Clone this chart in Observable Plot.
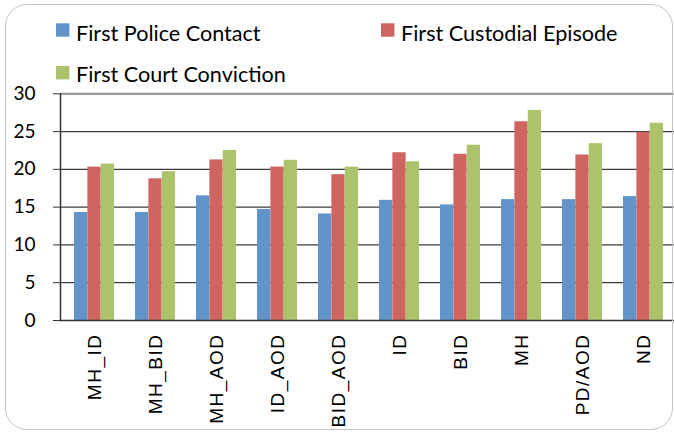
<!DOCTYPE html>
<html><head><meta charset="utf-8">
<script src="https://cdn.jsdelivr.net/npm/d3@7"></script>
<script src="https://cdn.jsdelivr.net/npm/@observablehq/plot@0.6"></script>
<style>
html,body{margin:0;padding:0;background:#fff;}
#wrap{position:relative;width:674px;height:432px;overflow:hidden;}
#chart{position:absolute;left:0;top:0;}
#legend{position:absolute;left:0;top:0;}
#border{position:absolute;left:5px;top:4px;width:666px;height:424px;border:1.5px solid #c4c4c4;border-radius:22px;pointer-events:none;}
#chart g[aria-label="x-axis tick label"] text{font-family:"Liberation Sans",Arial,sans-serif;font-size:19px;letter-spacing:1.5px;}
#chart g[aria-label="y-axis tick label"] text{font-family:Lato,sans-serif;font-size:19px;}
</style></head><body>
<div id="wrap"><div id="chart"></div><svg id="legend" width="674" height="95"></svg><div id="border"></div></div>
<script>
const categories = ["MH_ID","MH_BID","MH_AOD","ID_AOD","BID_AOD","ID","BID","MH","PD/AOD","ND"];
const seriesNames = ["First Police Contact","First Custodial Episode","First Court Conviction"];
const seriesColors = ["#6195CA","#CE6560","#ABC46B"];
const policeContact    = [14.3, 14.3, 16.5, 14.7, 14.1, 15.9, 15.3, 16.0, 16.0, 16.4];
const custodialEpisode = [20.3, 18.75, 21.25, 20.3, 19.3, 22.2, 22.0, 26.3, 21.9, 24.9];
const courtConviction  = [20.7, 19.7, 22.5, 21.2, 20.3, 21.0, 23.2, 27.8, 23.4, 26.1];
const yTicks = [0, 5, 10, 15, 20, 25, 30];

const seriesValues = [policeContact, custodialEpisode, courtConviction];
const rows = categories.flatMap((c, i) => seriesNames.map((s, k) => ({category: c, series: s, value: seriesValues[k][i]})));

const xRange = [60, 677.5];
const step = (xRange[1] - xRange[0]) / categories.length;
const bw = step * 0.65;
const sub = bw / 3;

const chart = Plot.plot({
  width: 674, height: 432,
  marginLeft: 60, marginRight: 0, marginTop: 93.3, marginBottom: 112,
  style: {fontFamily: "Lato, sans-serif", fontSize: "19px", color: "#000", background: "transparent"},
  x: {domain: categories, range: xRange, paddingInner: 0.35, paddingOuter: 0.175, label: null},
  y: {domain: [0, 30], label: null},
  marks: [
    Plot.ruleY(yTicks.filter(t => t > 0 && t < 30), {stroke: "#3c3c3c", strokeWidth: 1.2}),
    Plot.ruleY([30], {stroke: "#9a9a9a", strokeWidth: 2.2}),
    ...seriesNames.map((s, k) => Plot.barY(rows.filter(r => r.series === s), {
      x: "category", y: "value", fill: seriesColors[k],
      insetLeft: k * sub, insetRight: (2 - k) * sub
    })),
    Plot.ruleY([0], {stroke: "#333", strokeWidth: 1.5}),
    Plot.frame({anchor: "left", stroke: "#333", strokeWidth: 1.5}),
    Plot.axisY({ticks: yTicks, tickSize: 7, tickPadding: 18, tickFormat: d => String(d), stroke: "#333", label: null}),
    Plot.axisX({tickRotate: -90, tickSize: 0, tickPadding: 13, label: null})
  ]
});
document.getElementById("chart").appendChild(chart);

// legend
const legendPos = [{x: 56, y: 23.3, base: 40.7}, {x: 381, y: 23.3, base: 40.7}, {x: 56, y: 66, base: 81.7}];
const lg = d3.select("#legend");
seriesNames.forEach((s, k) => {
  const p = legendPos[k];
  lg.append("rect").attr("x", p.x).attr("y", p.y).attr("width", 13.4).attr("height", 13.4).attr("fill", seriesColors[k]);
  lg.append("text").attr("x", p.x + 20).attr("y", p.base)
    .attr("font-family", "Lato, sans-serif").attr("font-size", 21.6).attr("fill", "#000").text(s);
});
</script>
</body></html>
